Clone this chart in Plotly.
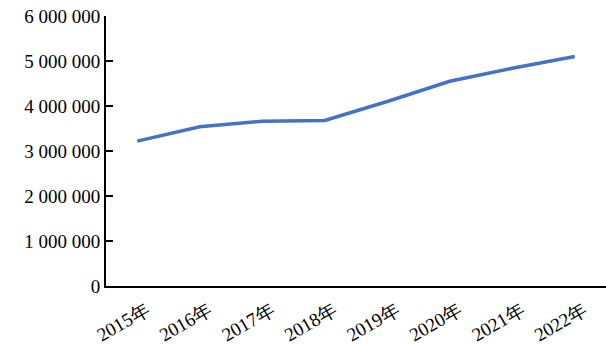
import plotly.graph_objects as go

years = ["2015年", "2016年", "2017年", "2018年", "2019年", "2020年", "2021年", "2022年"]
values = [3220000, 3540000, 3660000, 3680000, 4100000, 4550000, 4840000, 5100000]
y_tickvals = [0, 1000000, 2000000, 3000000, 4000000, 5000000, 6000000]
y_ticktext = ["0", "1 000 000", "2 000 000", "3 000 000", "4 000 000", "5 000 000", "6 000 000"]

font_family = "Liberation Serif, Times New Roman, serif"

fig = go.Figure()
fig.add_trace(go.Scatter(
    x=years, y=values, mode="lines",
    line=dict(color="#4472C4", width=3.5),
    showlegend=False, hoverinfo="skip",
))

fig.update_layout(
    width=606, height=345,
    margin=dict(l=106, r=0, t=16, b=54),
    paper_bgcolor="white", plot_bgcolor="white",
    font=dict(family=font_family, size=19, color="black"),
    xaxis=dict(
        type="category", range=[-0.5, 7.5],
        showline=True, linecolor="black", linewidth=2,
        showgrid=False, zeroline=False, ticks="",
        tickangle=-30, ticklabelshift=9, ticklabelstandoff=4,
        tickfont=dict(family=font_family, size=19, color="black"),
    ),
    yaxis=dict(
        range=[0, 6000000],
        tickvals=y_tickvals, ticktext=y_ticktext,
        showline=True, linecolor="black", linewidth=2,
        showgrid=False, zeroline=False,
        ticks="inside", ticklen=7, tickwidth=1.5, tickcolor="black",
        tickfont=dict(family=font_family, size=19, color="black"),
    ),
)

fig.write_html("out.html")
